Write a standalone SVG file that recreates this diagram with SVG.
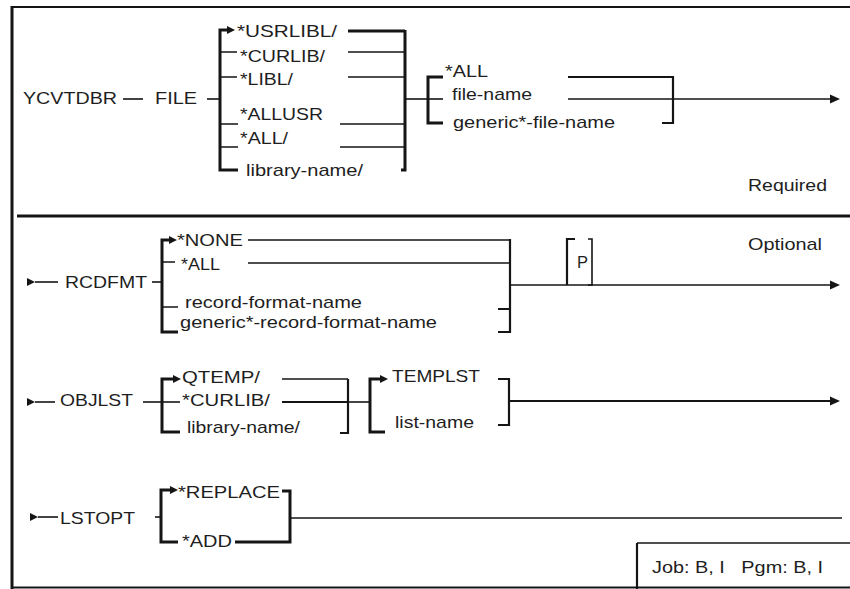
<svg xmlns="http://www.w3.org/2000/svg" xmlns:xlink="http://www.w3.org/1999/xlink" width="850" height="589" viewBox="0 0 850 589">
<style>
text{font-family:"Liberation Sans",Arial,sans-serif;font-size:17px;fill:#1e1e1e}
.thin{fill:none;stroke:#151515;stroke-width:1.6}
.thick{fill:none;stroke:#151515;stroke-width:3}
.mid{fill:none;stroke:#151515;stroke-width:2.2}
.ah{fill:#151515}
</style>
<defs>
<path id="ahBig" d="M-10,-4.5 L0,0 L-10,4.5 Z"/>
<path id="ahSmall" d="M-8,-4 L0,0 L-8,4 Z"/>
</defs>
<rect width="850" height="589" fill="#fff"/>
<g id="frame">
<path class="mid" d="M12,7 H850"/>
<path class="thick" d="M12,6 V589"/>
<path class="mid" d="M12,587.5 H850"/>
<path class="thick" d="M17,216 H850"/>
</g>
<g id="connectors">
<!-- row 1 -->
<path class="thin" d="M123,99 H143"/>
<path class="thin" d="M207,99 H220"/>
<path class="thick" d="M238,170 H220 V30 H228"/>
<use href="#ahSmall" class="ah" x="235" y="30"/>
<path class="thin" d="M220,52 H237 M220,77 H237 M220,124 H238 M220,147 H238"/>
<path class="thick" d="M348,31 H405"/>
<path class="thin" d="M348,52 H405 M348,77 H405 M340,124 H405 M340,147 H405"/>
<path class="thick" d="M401,170 H405 V30"/>
<path class="thin" d="M405,99 H428"/>
<path class="thick" d="M443,77 H428 V123 H443"/>
<path class="thin" d="M428,99 H443"/>
<path class="mid" d="M568,77 H673 V123 H662"/>
<path class="thin" d="M568,99 H832"/>
<use href="#ahBig" class="ah" x="840" y="99"/>
<!-- row 2 -->
<use href="#ahSmall" class="ah" x="35" y="282"/>
<path class="thin" d="M35,282 H58"/>
<path class="thin" d="M152,282 H162"/>
<path class="thick" d="M178,332 H162 V240 H170"/>
<use href="#ahSmall" class="ah" x="177" y="240"/>
<path class="thin" d="M162,262 H175 M162,307 H178"/>
<path class="thin" d="M248,240 H510 M248,263 H510"/>
<path class="mid" d="M510,239 V333 M498,309 H510 M498,332 H510"/>
<path class="thin" d="M510,285 H832"/>
<use href="#ahBig" class="ah" x="840" y="285"/>
<!-- row 3 -->
<use href="#ahSmall" class="ah" x="35" y="402"/>
<path class="thin" d="M35,402 H55"/>
<path class="thin" d="M143,402 H162"/>
<path class="thick" d="M180,432 H162 V379 H174"/>
<use href="#ahSmall" class="ah" x="181" y="379"/>
<path class="thin" d="M162,402 H180"/>
<path class="thin" d="M282,379 H348"/>
<path class="mid" d="M282,402 H348"/>
<path class="mid" d="M348,379 V433 H340"/>
<path class="thin" d="M348,402 H370"/>
<path class="thick" d="M385,432 H370 V379 H381"/>
<use href="#ahSmall" class="ah" x="388" y="379"/>
<path class="mid" d="M498,379 H509 V425 H498"/>
<path class="mid" d="M509,401 H832"/>
<use href="#ahBig" class="ah" x="840" y="401"/>
<!-- row 4 -->
<use href="#ahSmall" class="ah" x="38" y="517"/>
<path class="thin" d="M38,517 H58"/>
<path class="thin" d="M155,517 H161"/>
<path class="thick" d="M178,542 H161 V490 H171"/>
<use href="#ahSmall" class="ah" x="178" y="490"/>
<path class="thick" d="M282,491 H290 V542 H235"/>
<path class="thin" d="M290,518 H842"/>
</g>
<g id="node-ycvtdbr"><text x="23" y="104" textLength="94" lengthAdjust="spacingAndGlyphs">YCVTDBR</text></g>
<g id="node-file"><text x="155" y="104" textLength="42" lengthAdjust="spacingAndGlyphs">FILE</text></g>
<g id="node-lib-options">
<text x="237" y="37" textLength="100" lengthAdjust="spacingAndGlyphs">*USRLIBL/</text>
<text x="240" y="62" textLength="85" lengthAdjust="spacingAndGlyphs">*CURLIB/</text>
<text x="240" y="85" textLength="53" lengthAdjust="spacingAndGlyphs">*LIBL/</text>
<text x="240" y="120" textLength="83" lengthAdjust="spacingAndGlyphs">*ALLUSR</text>
<text x="240" y="144" textLength="48" lengthAdjust="spacingAndGlyphs">*ALL/</text>
<text x="246" y="176" textLength="117" lengthAdjust="spacingAndGlyphs">library-name/</text>
</g>
<g id="node-file-options">
<text x="445" y="77" textLength="43" lengthAdjust="spacingAndGlyphs">*ALL</text>
<text x="452" y="100" textLength="80" lengthAdjust="spacingAndGlyphs">file-name</text>
<text x="453" y="128" textLength="162" lengthAdjust="spacingAndGlyphs">generic*-file-name</text>
</g>
<g id="node-required"><text x="748" y="191" textLength="79" lengthAdjust="spacingAndGlyphs">Required</text></g>
<g id="node-rcdfmt"><text x="65" y="288" textLength="82" lengthAdjust="spacingAndGlyphs">RCDFMT</text></g>
<g id="node-rcdfmt-options">
<text x="177" y="246" textLength="66" lengthAdjust="spacingAndGlyphs">*NONE</text>
<text x="181" y="270" textLength="39" lengthAdjust="spacingAndGlyphs">*ALL</text>
<text x="185" y="308" font-size="16.5" textLength="177" lengthAdjust="spacingAndGlyphs">record-format-name</text>
<text x="180" y="328" font-size="16.5" textLength="257" lengthAdjust="spacingAndGlyphs">generic*-record-format-name</text>
</g>
<g id="node-p">
<path class="mid" d="M575,239 H567 V285"/>
<path class="thin" d="M588,239 H592 V285 H588"/>
<text x="577" y="268" textLength="11" lengthAdjust="spacingAndGlyphs">P</text>
</g>
<g id="node-optional"><text x="748" y="250" textLength="74" lengthAdjust="spacingAndGlyphs">Optional</text></g>
<g id="node-objlst"><text x="60" y="406" textLength="73" lengthAdjust="spacingAndGlyphs">OBJLST</text></g>
<g id="node-objlst-lib">
<text x="182" y="383" textLength="78" lengthAdjust="spacingAndGlyphs">QTEMP/</text>
<text x="182" y="406" textLength="88" lengthAdjust="spacingAndGlyphs">*CURLIB/</text>
<text x="187" y="433" textLength="113" lengthAdjust="spacingAndGlyphs">library-name/</text>
</g>
<g id="node-objlst-list">
<text x="392" y="382" textLength="88" lengthAdjust="spacingAndGlyphs">TEMPLST</text>
<text x="395" y="428" textLength="79" lengthAdjust="spacingAndGlyphs">list-name</text>
</g>
<g id="node-lstopt"><text x="60" y="524" textLength="75" lengthAdjust="spacingAndGlyphs">LSTOPT</text></g>
<g id="node-lstopt-options">
<text x="178" y="498" textLength="102" lengthAdjust="spacingAndGlyphs">*REPLACE</text>
<text x="182" y="547" textLength="50" lengthAdjust="spacingAndGlyphs">*ADD</text>
</g>
<g id="node-job">
<path class="mid" d="M637,589 V543"/>
<path class="thin" d="M637,543 H850"/>
<text x="652" y="573" textLength="171" lengthAdjust="spacingAndGlyphs" xml:space="preserve">Job: B, I   Pgm: B, I</text>
</g>
</svg>
